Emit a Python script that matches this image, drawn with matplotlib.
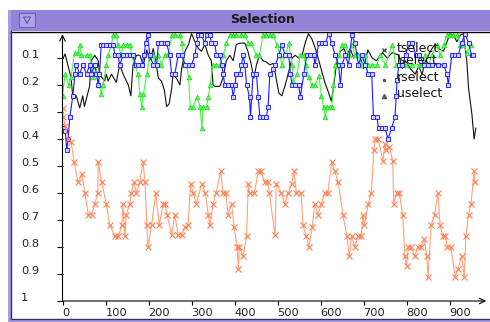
import matplotlib
matplotlib.use('Agg')
import matplotlib.pyplot as plt
from matplotlib.patches import Rectangle, Polygon
from matplotlib.lines import Line2D
from matplotlib.transforms import ScaledTranslation

# tselect (black line)
t_x = [0, 6, 20, 24, 32, 40, 47, 51, 63, 67, 75, 83, 86, 98, 102, 106, 114, 125, 133, 141,
       153, 159, 164, 172, 180, 188, 196, 203, 211, 217, 223, 230, 237, 242, 248, 254, 257, 265, 273, 277,
       285, 293, 300, 308, 316, 323, 331, 339, 346, 350, 354, 366, 373, 381, 389, 397, 404, 412, 424, 431,
       439, 445, 451, 458, 466, 474, 482, 490, 495, 503, 510, 518, 526, 534, 541, 549, 557, 565, 572, 580,
       588, 596, 603, 611, 619, 625, 630, 638, 646, 654, 661, 669, 677, 685, 692, 700, 710, 720, 730, 744,
       755, 767, 782, 790, 797, 809, 820, 828, 836, 843, 851, 859, 867, 874, 886, 894, 901, 909, 917, 925,
       932, 940, 944, 952, 957, 961]
t_y = [0.106, 0.085, 0.174, 0.248, 0.24, 0.285, 0.24, 0.28, 0.204, 0.11, 0.09, 0.11, 0.16, 0.185, 0.16, 0.185, 0.16, 0.19, 0.125, 0.16,
       0.2, 0.24, 0.125, 0.09, 0.09, 0.125, 0.07, 0.11, 0.065, 0.115, 0.175, 0.185, 0.22, 0.28, 0.27, 0.21, 0.16, 0.175, 0.2, 0.14,
       0.075, 0.05, 0.01, 0.04, 0.065, 0.075, 0.05, 0.09, 0.11, 0.2, 0.205, 0.205, 0.175, 0.11, 0.09, 0.11, 0.05, 0.045, 0.045, 0.075,
       0.125, 0.175, 0.125, 0.09, 0.11, 0.115, 0.125, 0.12, 0.16, 0.23, 0.24, 0.2, 0.15, 0.1, 0.09, 0.1, 0.09, 0.04, 0.01, 0.03,
       0.065, 0.11, 0.15, 0.195, 0.23, 0.26, 0.21, 0.11, 0.075, 0.065, 0.09, 0.065, 0.1, 0.08, 0.095, 0.14, 0.07, 0.1, 0.11, 0.08,
       0.1, 0.08, 0.09, 0.14, 0.11, 0.14, 0.16, 0.13, 0.16, 0.115, 0.09, 0.065, 0.05, 0.065, 0.075, 0.04, 0.01, 0.015, 0.04, 0.015,
       0.01, 0.11, 0.21, 0.31, 0.4, 0.36]

# lselect (blue squares)
l_x = [0, 6, 10, 13, 17, 24, 29, 32, 40, 47, 56, 63, 67, 75, 79, 83, 86, 90, 94, 102,
       110, 118, 122, 129, 133, 141, 149, 157, 164, 170, 176, 184, 190, 193, 198, 203, 211, 219, 223, 230,
       238, 242, 249, 254, 261, 269, 277, 285, 293, 300, 308, 312, 316, 323, 331, 335, 343, 346, 354, 358,
       366, 370, 374, 377, 385, 393, 397, 401, 404, 412, 416, 420, 424, 428, 435, 437, 443, 451, 455, 459,
       466, 474, 478, 482, 490, 495, 503, 510, 518, 526, 530, 534, 541, 549, 553, 561, 568, 576, 584, 587,
       596, 603, 611, 619, 626, 634, 642, 646, 650, 657, 665, 673, 680, 688, 696, 704, 711, 719, 723, 731,
       735, 742, 750, 757, 765, 773, 776, 778, 782, 790, 798, 805, 813, 822, 830, 840, 850, 859, 874, 886,
       894, 897, 905, 913, 920, 928, 936, 944, 951, 955]
l_y = [0.36, 0.37, 0.44, 0.4, 0.32, 0.24, 0.16, 0.125, 0.16, 0.125, 0.16, 0.125, 0.16, 0.125, 0.16, 0.2, 0.16, 0.05, 0.05, 0.05,
       0.05, 0.05, 0.09, 0.09, 0.125, 0.09, 0.09, 0.09, 0.09, 0.125, 0.125, 0.125, 0.09, 0.045, 0.015, 0.09, 0.125, 0.125, 0.045, 0.045,
       0.045, 0.045, 0.09, 0.16, 0.16, 0.09, 0.09, 0.125, 0.125, 0.125, 0.09, 0.045, 0.015, 0.015, 0.045, 0.015, 0.015, 0.045, 0.045, 0.09,
       0.09, 0.125, 0.16, 0.2, 0.2, 0.2, 0.245, 0.2, 0.16, 0.16, 0.125, 0.09, 0.125, 0.2, 0.245, 0.32, 0.16, 0.16, 0.245, 0.32,
       0.32, 0.32, 0.28, 0.16, 0.14, 0.125, 0.09, 0.05, 0.09, 0.09, 0.16, 0.2, 0.2, 0.2, 0.245, 0.16, 0.09, 0.09, 0.09, 0.125,
       0.045, 0.045, 0.045, 0.01, 0.045, 0.09, 0.125, 0.2, 0.125, 0.09, 0.125, 0.015, 0.045, 0.125, 0.09, 0.125, 0.16, 0.16, 0.32, 0.32,
       0.36, 0.36, 0.36, 0.4, 0.36, 0.32, 0.24, 0.18, 0.125, 0.125, 0.09, 0.045, 0.045, 0.09, 0.09, 0.125, 0.125, 0.125, 0.125, 0.125,
       0.16, 0.2, 0.09, 0.09, 0.09, 0.045, 0.01, 0.045, 0.09, 0.09]

# rselect (green triangles)
r_x = [0, 6, 14, 20, 28, 36, 40, 44, 56, 63, 67, 71, 75, 83, 86, 90, 94, 102, 106, 114,
       118, 125, 129, 137, 141, 149, 157, 160, 168, 176, 180, 184, 188, 196, 203, 211, 215, 223, 230, 238,
       246, 254, 261, 273, 277, 285, 289, 293, 297, 304, 312, 320, 324, 327, 335, 339, 343, 350, 358, 366,
       374, 381, 389, 397, 404, 416, 424, 431, 439, 451, 458, 466, 474, 482, 490, 498, 506, 510, 518, 526,
       534, 537, 545, 553, 561, 565, 572, 580, 588, 596, 602, 607, 611, 615, 623, 626, 630, 634, 642, 650,
       657, 665, 673, 680, 688, 696, 704, 711, 719, 731, 738, 751, 767, 775, 782, 798, 813, 828, 836, 843,
       851, 859, 871, 878, 886, 894, 901, 909, 917, 925, 932, 940, 950]
r_y = [0.24, 0.16, 0.2, 0.17, 0.08, 0.08, 0.05, 0.09, 0.09, 0.09, 0.125, 0.17, 0.125, 0.16, 0.2, 0.235, 0.2, 0.125, 0.09, 0.05,
       0.015, 0.015, 0.05, 0.09, 0.05, 0.05, 0.05, 0.09, 0.125, 0.16, 0.235, 0.28, 0.235, 0.16, 0.09, 0.09, 0.125, 0.09, 0.125, 0.09,
       0.085, 0.015, 0.015, 0.015, 0.045, 0.125, 0.125, 0.17, 0.28, 0.28, 0.245, 0.28, 0.36, 0.28, 0.28, 0.245, 0.2, 0.125, 0.125, 0.125,
       0.09, 0.045, 0.015, 0.015, 0.015, 0.015, 0.015, 0.045, 0.045, 0.09, 0.09, 0.015, 0.015, 0.015, 0.015, 0.05, 0.09, 0.125, 0.09, 0.045,
       0.125, 0.185, 0.16, 0.09, 0.09, 0.125, 0.17, 0.2, 0.2, 0.165, 0.24, 0.28, 0.32, 0.28, 0.28, 0.28, 0.2, 0.125, 0.09, 0.05,
       0.05, 0.09, 0.05, 0.09, 0.09, 0.125, 0.09, 0.125, 0.125, 0.125, 0.09, 0.125, 0.05, 0.125, 0.125, 0.125, 0.125, 0.125, 0.125, 0.09,
       0.125, 0.09, 0.05, 0.09, 0.05, 0.015, 0.015, 0.015, 0.015, 0.05, 0.05, 0.08, 0.05]

# uselect (orange crosses)
u_x = [0, 2, 6, 13, 20, 27, 36, 45, 52, 60, 68, 75, 82, 83, 91, 102, 110, 122, 130, 138,
       140, 145, 148, 157, 160, 166, 172, 180, 187, 192, 196, 199, 207, 217, 225, 234, 238, 243, 254, 261,
       269, 277, 285, 292, 298, 304, 311, 324, 332, 339, 343, 350, 357, 368, 373, 380, 385, 393, 399, 406,
       409, 411, 420, 428, 432, 435, 446, 455, 462, 470, 477, 481, 494, 497, 509, 517, 525, 533, 538, 544,
       555, 559, 567, 573, 581, 586, 594, 602, 610, 617, 626, 633, 641, 652, 661, 667, 672, 680, 687, 695,
       698, 702, 711, 718, 724, 727, 734, 745, 750, 752, 760, 768, 770, 777, 783, 791, 796, 800, 804, 811,
       819, 826, 834, 841, 847, 850, 857, 865, 873, 878, 884, 890, 895, 903, 913, 920, 928, 934, 938, 944,
       950, 957, 959]
u_y = [0.285, 0.32, 0.35, 0.4, 0.41, 0.485, 0.56, 0.53, 0.6, 0.68, 0.68, 0.64, 0.6, 0.485, 0.56, 0.64, 0.72, 0.76, 0.76, 0.72,
       0.64, 0.76, 0.68, 0.64, 0.6, 0.56, 0.6, 0.56, 0.485, 0.56, 0.72, 0.8, 0.72, 0.6, 0.72, 0.64, 0.64, 0.68, 0.755, 0.68,
       0.755, 0.755, 0.725, 0.72, 0.565, 0.6, 0.64, 0.565, 0.6, 0.68, 0.72, 0.64, 0.6, 0.52, 0.6, 0.6, 0.68, 0.64, 0.725, 0.8,
       0.88, 0.8, 0.835, 0.76, 0.565, 0.6, 0.6, 0.52, 0.52, 0.56, 0.56, 0.6, 0.755, 0.565, 0.6, 0.64, 0.6, 0.565, 0.52, 0.6,
       0.6, 0.72, 0.76, 0.8, 0.725, 0.64, 0.68, 0.64, 0.6, 0.6, 0.485, 0.52, 0.56, 0.68, 0.76, 0.835, 0.76, 0.8, 0.76, 0.76,
       0.68, 0.72, 0.64, 0.6, 0.44, 0.4, 0.4, 0.48, 0.42, 0.44, 0.43, 0.48, 0.64, 0.6, 0.6, 0.68, 0.835, 0.87, 0.8, 0.8,
       0.835, 0.8, 0.8, 0.77, 0.835, 0.91, 0.72, 0.68, 0.6, 0.72, 0.76, 0.76, 0.8, 0.8, 0.91, 0.88, 0.835, 0.91, 0.76, 0.68,
       0.64, 0.52, 0.56]

x_ticks = [0, 100, 200, 300, 400, 500, 600, 700, 800, 900]
y_ticks = [0.1, 0.2, 0.3, 0.4, 0.5, 0.6, 0.7, 0.8, 0.9, 1.0]
y_labels = ['0.1', '0.2', '0.3', '0.4', '0.5', '0.6', '0.7', '0.8', '0.9', '1']
legend_names = ['tselect', 'lselect', 'rselect', 'uselect']

W, H = 490, 322
fig = plt.figure(figsize=(W / 100, H / 100), dpi=100)
fig.patch.set_facecolor('white')

def fx(px):
    return px / W

def fy(py):
    return 1 - py / H

# window frame
purple = '#9383d9'
lav = '#a89ce4'
fig.patches.append(Rectangle((fx(8), fy(31)), fx(490) - fx(8), 21 / H, transform=fig.transFigure,
                             facecolor=purple, edgecolor='none', zorder=0))
fig.patches.append(Rectangle((fx(8), fy(322)), 3 / W, 312 / H, transform=fig.transFigure,
                             facecolor=lav, edgecolor='none', zorder=0))
fig.patches.append(Rectangle((fx(8), fy(322)), 482 / W, 3 / H, transform=fig.transFigure,
                             facecolor=lav, edgecolor='none', zorder=0))
fig.lines.append(Line2D([fx(11), fx(490)], [fy(31.5), fy(31.5)], transform=fig.transFigure, color='black', lw=1))
fig.lines.append(Line2D([fx(11), fx(11)], [fy(31), fy(319)], transform=fig.transFigure, color='#333355', lw=1))
fig.lines.append(Line2D([fx(11), fx(490)], [fy(319), fy(319)], transform=fig.transFigure, color='#333355', lw=1))
# title bar button
fig.patches.append(Rectangle((fx(19), fy(27)), 16 / W, 14 / H, transform=fig.transFigure,
                             facecolor='#aea2ea', edgecolor='#6e60b8', lw=0.8, zorder=1))
fig.patches.append(Polygon([(fx(23.5), fy(17)), (fx(30.5), fy(17)), (fx(27), fy(23.5))], closed=True,
                           transform=fig.transFigure, facecolor='none', edgecolor='#5a4ca8', lw=0.7, zorder=2))
fig.text(fx(263), fy(19.5), 'Selection', ha='center', va='center', fontsize=9, fontweight='bold',
         color='#1a1a1a', family='DejaVu Sans')

ax = fig.add_axes([fx(62.5), fy(301), fx(487) - fx(62.5), (301 - 31) / H])
ax.set_facecolor('none')
ax.set_xlim(0, 987)
ax.set_ylim(1, 0)
for s in ax.spines.values():
    s.set_visible(False)

ax.plot(t_x, t_y, color='#111111', lw=0.8, zorder=2)
ax.plot(r_x, r_y, color='#44f844', lw=0.8, marker='^', ms=3.3, mfc='#66f866', mec='#22e022', mew=0.6, zorder=3)
ax.plot(l_x, l_y, color='#1a1aff', lw=0.8, marker='s', ms=3.4, mfc='#d0d0ff', mec='#2a2aff', mew=0.7, zorder=4)
ax.plot(u_x, u_y, color='#ffa07a', lw=0.8, marker='x', ms=4.5, mec='#ff7f50', mew=0.8, zorder=4)

# axes with arrows
ax.annotate('', xy=(0, 0.012), xytext=(0, 1), xycoords='data',
            arrowprops=dict(arrowstyle='->', lw=0.8, color='black', shrinkA=0, shrinkB=0), annotation_clip=False)
ax.annotate('', xy=(985, 1), xytext=(0, 1), xycoords='data',
            arrowprops=dict(arrowstyle='->', lw=0.8, color='black', shrinkA=0, shrinkB=0), annotation_clip=False)

ax.set_xticks(x_ticks)
ax.set_xticklabels([str(v) for v in x_ticks])
ax.set_yticks(y_ticks)
ax.set_yticklabels(y_labels)
ax.tick_params(axis='x', direction='out', length=3, width=0.8, pad=2, labelsize=8.2, labelcolor='#222222')
ax.tick_params(axis='y', direction='out', length=4, width=0.8, pad=26, labelsize=8.2, labelcolor='#222222')
for lab in ax.get_xticklabels():
    lab.set_ha('left')
for lab in ax.get_yticklabels():
    lab.set_ha('left')
    lab.set_transform(lab.get_transform() + ScaledTranslation(0, 0.04, fig.dpi_scale_trans))

# legend drawn as plain text over the data
leg_y = [0.063, 0.111, 0.174, 0.233]
leg_marker = ['x', None, '.', '^']
for name, yy, mk in zip(legend_names, leg_y, leg_marker):
    ax.text(778, yy, name, fontsize=9, color='#111111', va='center', ha='left', zorder=6)
    if mk:
        ax.plot([748], [yy + 0.008], marker=mk, ms=3, color='#555555', zorder=6, clip_on=False)

fig.savefig('out.png', dpi=100)
